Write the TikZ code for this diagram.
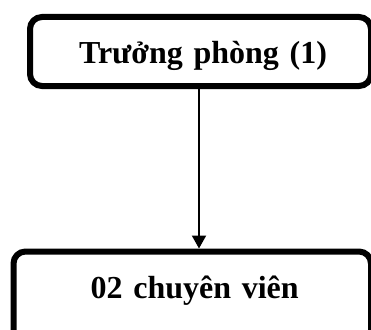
\documentclass[tikz,border=0pt]{standalone}
\usepackage{fontspec}
\setmainfont{Liberation Serif}
\usepackage{tikz}
\usetikzlibrary{arrows.meta}

\begin{document}
\begin{tikzpicture}[x=1pt,y=-1pt,>={Triangle[width=14pt,length=13pt]},
  box/.style={draw,line width=6pt,rounded corners=12pt,inner sep=0pt,align=center,
    font=\fontsize{32}{38}\selectfont\bfseries}]
% Picture frame
\useasboundingbox (0,0) rectangle (371,329);

% Head of the office
\node[box,text width=341pt,text height=46pt,text depth=23pt,anchor=north west]
  (head) at (27,14) {\hspace*{5pt}Trưởng phòng (1)};

% Staff
\node[box,text width=357.5pt,text height=46.5pt,text depth=50pt,anchor=north west]
  (staff) at (10.5,248.5) {\hspace*{5pt}02 chuyên viên};

% Link
\draw[->,line width=2pt] (head.south -| 199,0) to (staff.north -| 199,0);
\end{tikzpicture}
\end{document}
